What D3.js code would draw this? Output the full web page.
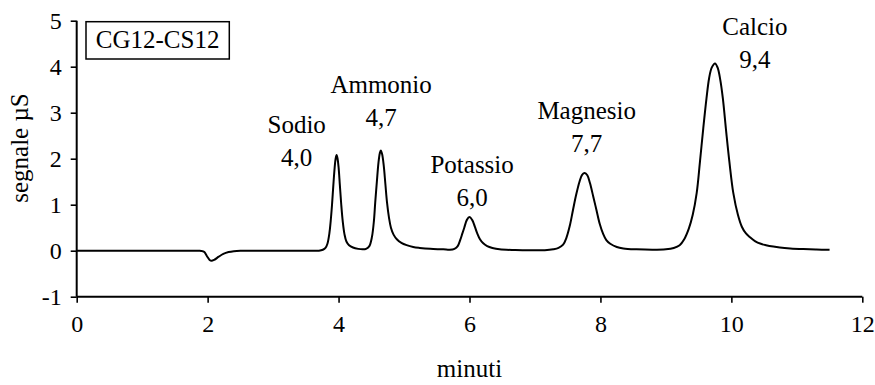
<!DOCTYPE html>
<html>
<head>
<meta charset="utf-8">
<script src="https://cdn.jsdelivr.net/npm/d3@7"></script>
<style>
  html, body { margin: 0; padding: 0; background: #fff; }
  svg { display: block; }
  text { font-family: "Liberation Serif", "Times New Roman", serif; fill: #000; }
</style>
</head>
<body>
<svg id="chart" width="875" height="385"></svg>
<script>
// ---- data ----
const timeMin = [0, 0.5, 1.0, 1.5, 1.80, 1.88, 1.92, 1.95, 1.99, 2.03, 2.06, 2.10, 2.17, 2.24, 2.32, 2.40, 2.50, 2.65, 3.0, 3.3, 3.55,
  3.70, 3.76, 3.80, 3.83, 3.86, 3.88, 3.90, 3.92, 3.94, 3.955, 3.97, 3.985, 4.00, 4.02, 4.04, 4.065, 4.09, 4.12, 4.16, 4.22, 4.30, 4.37,
  4.42, 4.47, 4.51, 4.54, 4.56, 4.585, 4.61, 4.63, 4.645, 4.665, 4.69, 4.715, 4.74, 4.77, 4.80, 4.84, 4.89, 4.96, 5.04, 5.14, 5.24, 5.40, 5.60,
  5.70, 5.77, 5.82, 5.86, 5.89, 5.92, 5.96, 6.00, 6.04, 6.08, 6.12, 6.16, 6.21, 6.27, 6.35, 6.46, 6.70, 7.00,
  7.15, 7.28, 7.36, 7.43, 7.48, 7.53, 7.58, 7.63, 7.68, 7.72, 7.76, 7.80, 7.84, 7.89, 7.94, 7.99, 8.04, 8.09, 8.15, 8.25, 8.35, 8.55, 8.80,
  9.00, 9.12, 9.21, 9.28, 9.35, 9.41, 9.47, 9.52, 9.57, 9.62, 9.66, 9.70, 9.75, 9.79, 9.83, 9.87, 9.92, 9.97, 10.03, 10.10, 10.16, 10.22, 10.28, 10.36, 10.45, 10.53, 10.64, 10.74, 10.90, 11.10, 11.30, 11.50];
const signal = [0, 0, 0, 0, 0, 0, -0.01, -0.03, -0.12, -0.20, -0.22, -0.20, -0.13, -0.07, -0.03, -0.01, 0, 0, 0, 0, 0,
  0.00, 0.02, 0.06, 0.15, 0.38, 0.65, 1.00, 1.42, 1.80, 2.00, 2.08, 2.00, 1.82, 1.42, 1.02, 0.62, 0.36, 0.20, 0.12, 0.07, 0.04, 0.03,
  0.04, 0.10, 0.30, 0.65, 1.05, 1.50, 1.92, 2.12, 2.18, 2.10, 1.85, 1.45, 1.05, 0.72, 0.50, 0.35, 0.25, 0.17, 0.12, 0.08, 0.06, 0.04, 0.03,
  0.02, 0.04, 0.10, 0.24, 0.37, 0.50, 0.67, 0.73, 0.67, 0.53, 0.37, 0.25, 0.16, 0.10, 0.06, 0.03, 0.015, 0.01,
  0.01, 0.03, 0.06, 0.13, 0.28, 0.53, 0.88, 1.22, 1.50, 1.65, 1.69, 1.64, 1.47, 1.18, 0.88, 0.58, 0.37, 0.23, 0.15, 0.08, 0.05, 0.03, 0.02,
  0.03, 0.06, 0.12, 0.25, 0.48, 0.78, 1.25, 1.93, 2.65, 3.31, 3.75, 3.98, 4.07, 3.98, 3.72, 3.31, 2.60, 1.93, 1.25, 0.78, 0.52, 0.38, 0.30, 0.21, 0.15, 0.12, 0.09, 0.07, 0.05, 0.035, 0.025, 0.02];

const xTicks = [0, 2, 4, 6, 8, 10, 12];
const yTicks = [-1, 0, 1, 2, 3, 4, 5];

const peakNames = ["Sodio", "Ammonio", "Potassio", "Magnesio", "Calcio"];
const peakTimes = ["4,0", "4,7", "6,0", "7,7", "9,4"];

const xTitle = "minuti";
const yTitle = "segnale µS";
const boxLabel = "CG12-CS12";

// ---- layout ----
const plot = { left: 76.7, right: 862.3, top: 20.7, bottom: 296.7 };
// label anchor (in data units) for each peak label
const labelAnchorX = [3.36, 4.65, 6.04, 7.79, 10.36];
const labelAnchorY = [2.56, 3.43, 1.68, 2.86, 4.69];

const svg = d3.select("#chart");

const x = d3.scaleLinear().domain([0, 12]).range([plot.left, plot.right]);
const y = d3.scaleLinear().domain([-1, 5]).range([plot.bottom, plot.top]);

const fsTick = 24, fsLab = 25;

// x axis
const xAxis = svg.append("g")
  .attr("transform", `translate(0,${plot.bottom})`)
  .call(d3.axisBottom(x).tickValues(xTicks).tickSize(6).tickPadding(12).tickFormat(d => String(d)));
xAxis.select(".domain").attr("d", `M${plot.left},0H${plot.right}`).attr("stroke", "#000").attr("stroke-width", 2);
xAxis.selectAll(".tick line").attr("stroke", "#000").attr("stroke-width", 1.6);
xAxis.selectAll(".tick text").attr("font-size", fsTick).attr("font-family", "Liberation Serif");

// y axis
const yAxis = svg.append("g")
  .attr("transform", `translate(${plot.left},0)`)
  .call(d3.axisLeft(y).tickValues(yTicks).tickSize(6).tickPadding(9).tickFormat(d => String(d)));
yAxis.select(".domain").attr("d", `M0,${plot.top}V${plot.bottom}`).attr("stroke", "#000").attr("stroke-width", 2);
yAxis.selectAll(".tick line").attr("stroke", "#000").attr("stroke-width", 1.6);
yAxis.selectAll(".tick text").attr("font-size", fsTick).attr("font-family", "Liberation Serif");

// curve
const pts = timeMin.map((t, i) => [t, signal[i]]);
svg.append("path")
  .datum(pts)
  .attr("fill", "none")
  .attr("stroke", "#000")
  .attr("stroke-width", 2)
  .attr("stroke-linejoin", "round")
  .attr("d", d3.line().x(d => x(d[0])).y(d => y(d[1])).curve(d3.curveCatmullRom.alpha(0.5)));

// axis titles
svg.append("text")
  .attr("x", (plot.left + plot.right) / 2).attr("y", 377)
  .attr("text-anchor", "middle").attr("font-size", fsLab)
  .text(xTitle);

svg.append("text")
  .attr("transform", `translate(28,148) rotate(-90)`)
  .attr("text-anchor", "middle").attr("font-size", fsLab)
  .text(yTitle);

// boxed label
svg.append("rect")
  .attr("x", 86).attr("y", 21.7).attr("width", 143.3).attr("height", 37.3)
  .attr("fill", "#fff").attr("stroke", "#000").attr("stroke-width", 1.5);
svg.append("text")
  .attr("x", 157.6).attr("y", 48.3).attr("text-anchor", "middle").attr("font-size", fsLab)
  .text(boxLabel);

// peak labels
const lab = svg.append("g").selectAll("g").data(peakNames).join("g")
  .attr("transform", (d, i) => `translate(${x(labelAnchorX[i])},${y(labelAnchorY[i])})`);
lab.append("text").attr("text-anchor", "middle").attr("font-size", fsLab).text(d => d);
lab.append("text").attr("text-anchor", "middle").attr("font-size", fsLab).attr("y", 33)
  .text((d, i) => peakTimes[i]);
</script>
</body>
</html>
